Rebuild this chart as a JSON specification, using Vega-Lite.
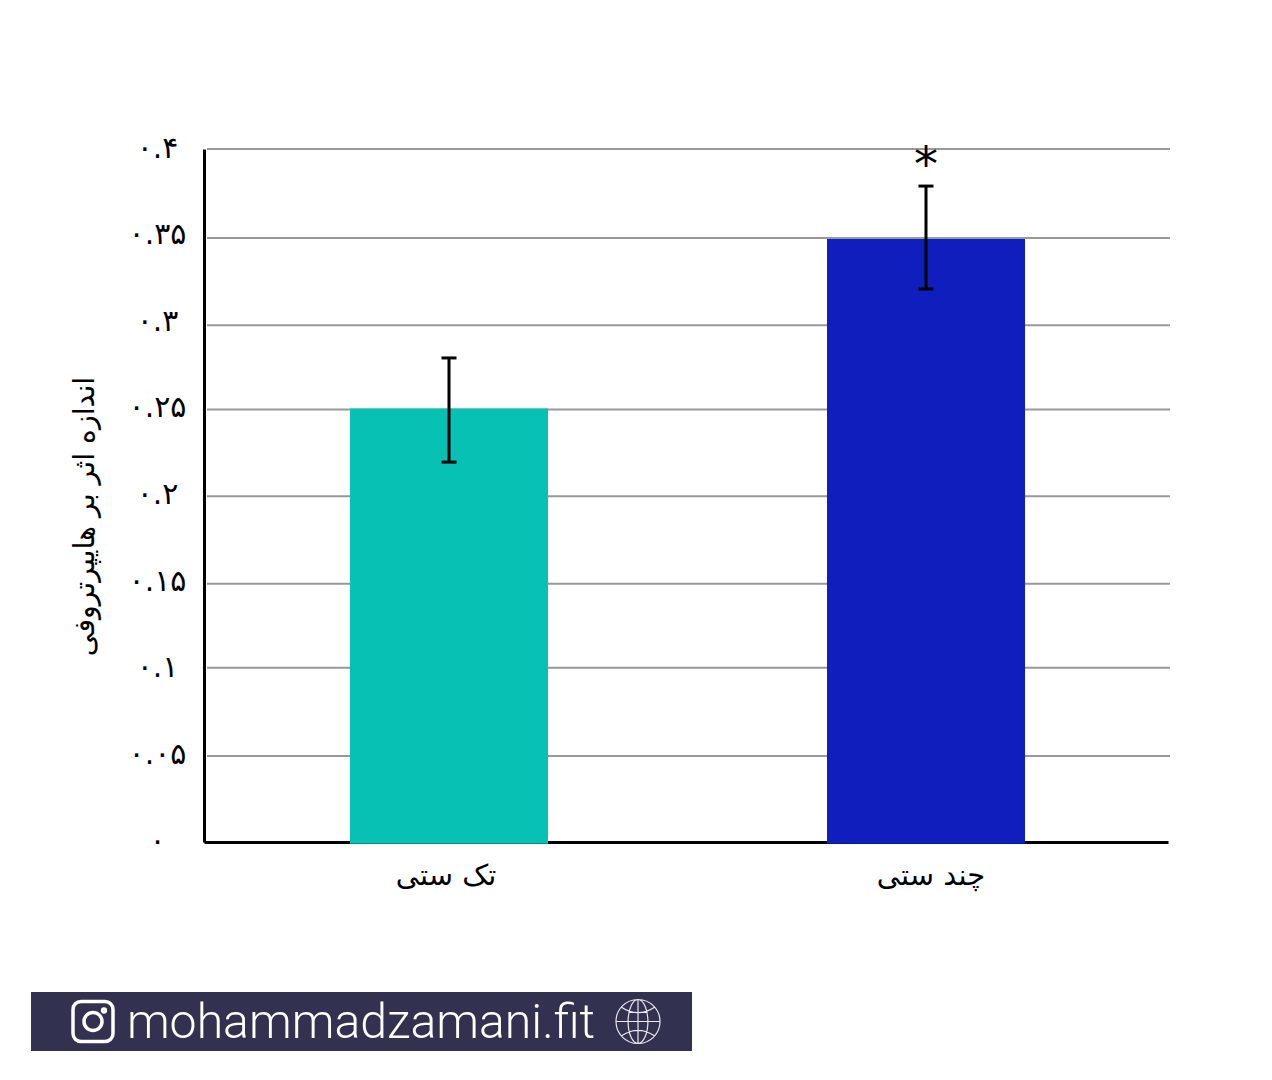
{
  "$schema": "https://vega.github.io/schema/vega-lite/v6.json",
  "autosize": "none",
  "padding": {"left": 204, "top": 149, "right": 104, "bottom": 238},
  "width": 964,
  "height": 693,
  "background": "white",
  "config": {"view": {"stroke": null}},
  "datasets": {
    "bars": [
      {"group": "تک ستی", "effect": 0.2502, "base": -0.001, "low": 0.2193, "high": 0.2794},
      {"group": "چند ستی", "effect": 0.3481, "base": -0.001, "low": 0.3192, "high": 0.3786}
    ],
    "grid": [
      {"level": 0.4},
      {"level": 0.3486},
      {"level": 0.2982},
      {"level": 0.2497},
      {"level": 0.1995},
      {"level": 0.1491},
      {"level": 0.1006},
      {"level": 0.0497}
    ],
    "star": [
      {"group": "چند ستی", "level": 0.3954, "note": "*"}
    ],
    "strip": [
      {"strip": "footer"}
    ],
    "footer": [
      {"strip": "footer", "item": "instagram"},
      {"strip": "footer", "item": "site", "label": "mohammadzamani.fit"},
      {"strip": "footer", "item": "globe"}
    ]
  },
  "layer": [
    {
      "layer": [
        {
          "data": {"name": "grid"},
          "mark": {"type": "rule", "color": "#999999", "strokeWidth": 2},
          "encoding": {
            "x": {"datum": 0, "type": "quantitative", "axis": null, "scale": {"domain": [0, 1], "range": [3, 966]}},
            "x2": {"datum": 1},
            "y": {
              "field": "level",
              "type": "quantitative",
              "scale": {"domain": [0, 0.4]},
              "axis": {
                "title": "اندازه اثر بر هایپرتروفی",
                "values": [0, 0.05, 0.1, 0.15, 0.2, 0.25, 0.3, 0.35, 0.4],
                "grid": false,
                "ticks": false,
                "domainColor": "black",
                "domainWidth": 3,
                "labelFont": "DejaVu Sans",
                "labelFontSize": 30,
                "labelColor": "black",
                "labelAlign": "center",
                "labelPadding": 47,
                "labelOffset": -1,
                "labelExpr": "replace(replace(replace(replace(replace(replace(format(datum.value, '.2~f'), regexp('0', 'g'), '۰'), regexp('1', 'g'), '۱'), regexp('2', 'g'), '۲'), regexp('3', 'g'), '۳'), regexp('4', 'g'), '۴'), regexp('5', 'g'), '۵')",
                "titleFont": "DejaVu Sans",
                "titleFontSize": 28.4,
                "titleFontWeight": "normal",
                "titleColor": "black",
                "titleX": -105,
                "titleY": 367
              }
            }
          }
        },
        {
          "layer": [
            {
              "data": {"name": "bars"},
              "mark": {"type": "bar", "size": 198},
              "encoding": {
                "x": {
                  "field": "group",
                  "type": "nominal",
                  "sort": null,
                  "title": null,
                  "scale": {"paddingInner": 0, "paddingOuter": 0.0105, "align": 0.65},
                  "axis": {
                    "domainColor": "black",
                    "domainWidth": 3,
                    "ticks": false,
                    "labelAngle": 0,
                    "labelFont": "DejaVu Sans",
                    "labelFontSize": 29,
                    "labelColor": "black",
                    "labelPadding": 19,
                    "labelOffset": {"expr": "datum.value === 'تک ستی' ? -3 : 5"}
                  }
                },
                "y": {"field": "effect", "type": "quantitative"},
                "y2": {"field": "base"},
                "color": {
                  "field": "group",
                  "type": "nominal",
                  "legend": null,
                  "scale": {"domain": ["تک ستی", "چند ستی"], "range": ["#07C1B5", "#111EBE"]}
                }
              }
            },
            {
              "data": {"name": "bars"},
              "mark": {"type": "rule", "color": "black", "strokeWidth": 3},
              "encoding": {
                "x": {"field": "group", "type": "nominal", "sort": null},
                "y": {"field": "low", "type": "quantitative"},
                "y2": {"field": "high"}
              }
            },
            {
              "data": {"name": "bars"},
              "mark": {"type": "tick", "color": "black", "size": 15, "thickness": 3, "opacity": 1},
              "encoding": {
                "x": {"field": "group", "type": "nominal", "sort": null},
                "y": {"field": "low", "type": "quantitative"}
              }
            },
            {
              "data": {"name": "bars"},
              "mark": {"type": "tick", "color": "black", "size": 15, "thickness": 3, "opacity": 1},
              "encoding": {
                "x": {"field": "group", "type": "nominal", "sort": null},
                "y": {"field": "high", "type": "quantitative"}
              }
            },
            {
              "data": {"name": "star"},
              "mark": {"type": "text", "font": "DejaVu Sans", "fontSize": 48, "color": "black", "baseline": "middle", "dy": 10},
              "encoding": {
                "x": {"field": "group", "type": "nominal", "sort": null},
                "y": {"field": "level", "type": "quantitative"},
                "text": {"field": "note"}
              }
            }
          ]
        }
      ],
      "resolve": {"scale": {"x": "independent"}}
    },
    {
      "layer": [
        {
          "data": {"name": "strip"},
          "mark": {"type": "rect", "color": "#323250"},
          "encoding": {
            "x": {"field": "strip", "type": "nominal", "axis": null, "scale": {"type": "band", "range": [-173, 488], "paddingInner": 0, "paddingOuter": 0}},
            "y": {"field": "strip", "type": "nominal", "axis": null, "scale": {"type": "band", "range": [843, 902], "paddingInner": 0, "paddingOuter": 0}}
          }
        },
        {
          "layer": [
            {
              "data": {"name": "footer"},
              "transform": [{"filter": "datum.item === 'site'"}],
              "mark": {"type": "text", "font": "Roboto", "fontWeight": 300, "fontSize": 48.2, "color": "white", "align": "center", "baseline": "middle", "dx": -4.5, "dy": 2},
              "encoding": {
                "x": {"field": "item", "type": "nominal", "axis": null, "scale": {"type": "point", "domain": ["instagram", "site", "globe"], "range": [-111, 434], "padding": 0}},
                "y": {"field": "strip", "type": "nominal", "axis": null, "scale": {"type": "band", "range": [843, 902], "paddingInner": 0, "paddingOuter": 0}},
                "text": {"field": "label"}
              }
            },
            {
              "data": {"name": "footer"},
              "transform": [{"filter": "datum.item === 'instagram'"}],
              "mark": {
                "type": "point",
                "filled": false,
                "stroke": "white",
                "strokeWidth": 3.5,
                "size": 1600,
                "opacity": 1,
                "shape": "M-0.6,-1H0.6A0.4,0.4 0 0 1 1,-0.6V0.6A0.4,0.4 0 0 1 0.6,1H-0.6A0.4,0.4 0 0 1 -1,0.6V-0.6A0.4,0.4 0 0 1 -0.6,-1ZM0.45,0A0.45,0.45 0 1 1 -0.45,0A0.45,0.45 0 1 1 0.45,0ZM0.62,-0.55A0.07,0.07 0 1 1 0.48,-0.55A0.07,0.07 0 1 1 0.62,-0.55Z"
              },
              "encoding": {
                "x": {"field": "item", "type": "nominal"},
                "y": {"field": "strip", "type": "nominal"}
              }
            },
            {
              "data": {"name": "footer"},
              "transform": [{"filter": "datum.item === 'globe'"}],
              "mark": {
                "type": "point",
                "filled": false,
                "stroke": "#e8e8ee",
                "strokeWidth": 1.2,
                "size": 1936,
                "opacity": 1,
                "shape": "M1,0A1,1 0 1 1 -1,0A1,1 0 1 1 1,0ZM-1,0H1M0,-1V1M0.45,0A0.45,1 0 1 1 -0.45,0A0.45,1 0 1 1 0.45,0ZM-0.75,-0.65Q0,-0.15 0.75,-0.65M-0.75,0.65Q0,0.15 0.75,0.65"
              },
              "encoding": {
                "x": {"field": "item", "type": "nominal"},
                "y": {"field": "strip", "type": "nominal"}
              }
            }
          ]
        }
      ],
      "resolve": {"scale": {"x": "independent"}}
    }
  ],
  "resolve": {"scale": {"x": "independent", "y": "independent"}}
}
